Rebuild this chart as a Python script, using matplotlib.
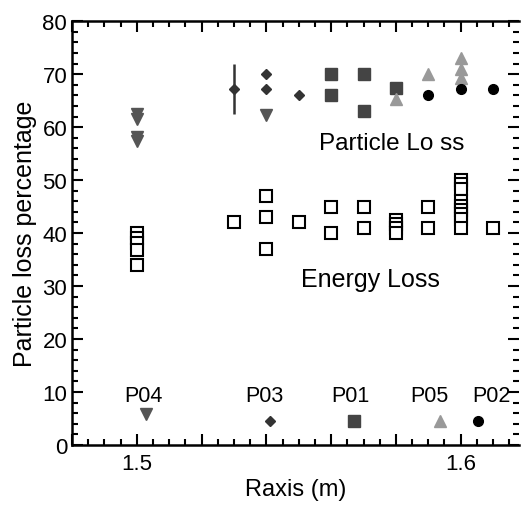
import matplotlib.pyplot as plt
from matplotlib.ticker import MultipleLocator, FuncFormatter

plt.rcParams['font.family'] = ['Liberation Sans', 'DejaVu Sans']

# particle loss, per series
p04_x = [1.50, 1.50, 1.50, 1.50, 1.54]
p04_y = [62.5, 61.5, 58.2, 57.3, 62.3]
p03_x = [1.54, 1.54, 1.55]
p03_y = [70, 67.2, 66]
p03_err_x = [1.53]
p03_err_y = [67.2]
p03_err = [4.7]
p01_x = [1.56, 1.56, 1.57, 1.57, 1.58]
p01_y = [70, 66, 70, 63, 67.3]
p05_x = [1.58, 1.59, 1.60, 1.60, 1.60]
p05_y = [65.3, 70, 73, 71, 69.3]
p02_x = [1.59, 1.60, 1.61]
p02_y = [66, 67.2, 67.2]

# energy loss
energy_x = [1.50, 1.50, 1.50, 1.50, 1.50,
            1.53, 1.54, 1.54, 1.54, 1.55,
            1.56, 1.56, 1.57, 1.57,
            1.58, 1.58, 1.58, 1.58,
            1.59, 1.59,
            1.60, 1.60, 1.60, 1.60, 1.60, 1.60, 1.60, 1.60, 1.60,
            1.61]
energy_y = [40, 39, 38.1, 36.8, 34,
            42, 47, 43, 37, 42,
            45, 40, 45, 41,
            42.5, 41.7, 40.9, 40,
            45, 41,
            50, 49.2, 48.4, 46, 45.2, 44.4, 43.6, 42.7, 41,
            41]

# key drawn inside the plot
key_names = ['P04', 'P03', 'P01', 'P05', 'P02']
key_x = [1.503, 1.541, 1.567, 1.5935, 1.6055]
key_y = [5.8, 4.6, 4.6, 4.6, 4.6]
key_label_x = [1.5022, 1.5394, 1.5658, 1.5904, 1.6096]
key_markers = ['v', 'D', 's', '^', 'o']
key_sizes = [8, 5.5, 8, 8, 7]
key_colors = ['#555555', '#333333', '#444444', '#999999', '#000000']

fig = plt.figure(figsize=(5.24, 5.10), dpi=100)
ax = fig.add_axes([0.1374, 0.1255, 0.853, 0.831])

ax.plot(energy_x, energy_y, 's', ms=8, mfc='white', mec='black', mew=1.5)

ax.errorbar(p03_err_x, p03_err_y, yerr=p03_err, fmt='D', ms=5.5,
            color='#333333', elinewidth=1.8, capsize=0)
ax.plot(p04_x, p04_y, 'v', ms=8, color='#555555')
ax.plot(p03_x, p03_y, 'D', ms=5.5, color='#333333')
ax.plot(p01_x, p01_y, 's', ms=8, color='#444444')
ax.plot(p05_x, p05_y, '^', ms=8, color='#999999')
ax.plot(p02_x, p02_y, 'o', ms=7, color='#000000')

for name, x, y, lx, m, s, c in zip(key_names, key_x, key_y, key_label_x,
                                   key_markers, key_sizes, key_colors):
    ax.plot(x, y, m, ms=s, color=c)
    ax.text(lx, 9.3, name, ha='center', va='center', fontsize=15.5)

ax.text(1.5786, 57, 'Particle Lo ss', ha='center', va='center', fontsize=17.5)
ax.text(1.572, 31.3, 'Energy Loss', ha='center', va='center', fontsize=18)

ax.set_xlim(1.48, 1.618)
ax.set_ylim(0, 80)
ax.xaxis.set_major_locator(MultipleLocator(0.02))
ax.xaxis.set_minor_locator(MultipleLocator(0.005))
ax.xaxis.set_major_formatter(FuncFormatter(
    lambda v, pos: f'{v:.1f}' if abs(v * 10 - round(v * 10)) < 1e-6 else ''))
ax.yaxis.set_major_locator(MultipleLocator(10))
ax.yaxis.set_minor_locator(MultipleLocator(2))
ax.tick_params(which='both', direction='in', top=True, right=True, labelsize=16, width=1.5)
ax.tick_params(which='major', length=8)
ax.tick_params(which='minor', length=4)
ax.tick_params(axis='x', pad=6)
ax.spines['right'].set_visible(False)
for s in ['left', 'bottom', 'top']:
    ax.spines[s].set_linewidth(1.8)

ax.set_xlabel('Raxis (m)', fontsize=17, labelpad=3)
ax.set_ylabel('Particle loss percentage', fontsize=18, labelpad=4)

fig.savefig('out.png', dpi=100)
